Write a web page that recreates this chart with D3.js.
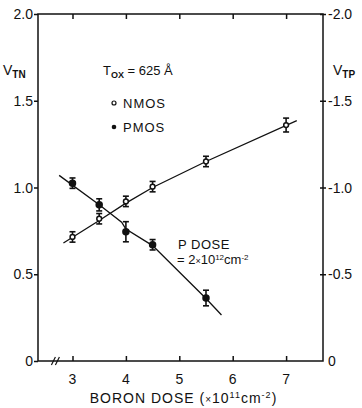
<!DOCTYPE html>
<meta charset="utf-8">
<style>
body { margin: 0; background: #fff; font-family: "Liberation Sans", Arial, sans-serif; }
svg text { fill: #111; }
.axis path, .axis line { stroke: #111; stroke-width: 1.5; fill: none; }
.fit { stroke: #111; stroke-width: 1.3; fill: none; }
.err { stroke: #111; stroke-width: 1.6; }
</style>
<body>
<script src="https://d3js.org/d3.v7.min.js"></script>
<script>

// data
var doseN = [3, 3.5, 4, 4.5, 5.5, 7];
var vtn = [0.715, 0.82, 0.92, 1.005, 1.15, 1.36];
var errN = [0.03, 0.03, 0.03, 0.03, 0.03, 0.04];

var doseP = [3, 3.5, 4, 4.5, 5.5];
var vtp = [1.025, 0.90, 0.745, 0.67, 0.363];   // plotted as |VTP|
var errP = [0.03, 0.035, 0.058, 0.03, 0.045];

// hand-drawn fit lines
var fitNx = [2.83, 3.5, 4, 4.5, 5.5, 7.2];
var fitNy = [0.68, 0.81, 0.91, 1.0, 1.15, 1.385];
var fitPx = [2.75, 3.5, 3.92, 4.0, 4.5, 5.5, 5.79];
var fitPy = [1.07, 0.9, 0.80, 0.76, 0.665, 0.36, 0.265];

var xTicks = [3, 4, 5, 6, 7];
var yTicks = [0, 0.5, 1.0, 1.5, 2.0];
var yLabelsL = ["0", "0.5", "1.0", "1.5", "2.0"];
var yLabelsR = ["0", "-0.5", "-1.0", "-1.5", "-2.0"];

var margin = {top: 14, right: 39, bottom: 47, left: 38},
    width = 362 - margin.left - margin.right,
    height = 408 - margin.top - margin.bottom;

var svg = d3.select("body").append("svg")
    .attr("width", 362).attr("height", 408)
  .append("g")
    .attr("transform", "translate(" + margin.left + "," + margin.top + ")");

var x = d3.scaleLinear().domain([2.354, 7.691]).range([0, width]);
var y = d3.scaleLinear().domain([0, 2]).range([height, 0]);

// frame
svg.append("rect").attr("width", width).attr("height", height)
    .style("fill", "none").style("stroke", "#111").style("stroke-width", 1.5);

// bottom + top ticks pointing in
var bx = svg.append("g").attr("class", "axis")
    .attr("transform", "translate(0," + height + ")")
    .call(d3.axisBottom(x).tickValues(xTicks).tickSize(-5).tickFormat(""));
bx.select(".domain").remove();
svg.append("g").attr("class", "axis")
    .call(d3.axisTop(x).tickValues(xTicks).tickSize(-5).tickFormat(""))
    .select(".domain").remove();

svg.selectAll(".xlab").data(xTicks).enter().append("text")
    .attr("x", function(d) { return x(d); })
    .attr("y", height + 23)
    .attr("text-anchor", "middle")
    .style("font-size", "14px")
    .text(function(d) { return d; });

// axis break mark
[-2, 2].forEach(function(o) {
  svg.append("line")
      .attr("x1", x(2.68) + o - 2).attr("y1", height + 4)
      .attr("x2", x(2.68) + o + 2).attr("y2", height - 4)
      .style("stroke", "#111").style("stroke-width", 1.2);
});

// left axis
var ly = svg.append("g").attr("class", "axis")
    .call(d3.axisLeft(y).tickValues(yTicks).tickSize(4).tickFormat(""));
ly.select(".domain").remove();
svg.selectAll(".ylabL").data(yTicks).enter().append("text")
    .attr("x", -5)
    .attr("y", function(d) { return y(d) + 5; })
    .attr("text-anchor", "end")
    .style("font-size", "14px")
    .text(function(d, i) { return yLabelsL[i]; });

// right axis, ticks crossing
var ry = svg.append("g").attr("class", "axis")
    .attr("transform", "translate(" + width + ",0)")
    .call(d3.axisRight(y).tickValues(yTicks.slice(1)).tickSize(3).tickFormat(""));
ry.select(".domain").remove();
ry.selectAll(".tick line").attr("x1", -3);
svg.selectAll(".ylabR").data(yTicks).enter().append("text")
    .attr("x", width + 5)
    .attr("y", function(d) { return y(d) + 5; })
    .attr("text-anchor", "start")
    .style("font-size", "14px")
    .text(function(d, i) { return yLabelsR[i]; });

// axis titles
var tn = svg.append("text").attr("x", -35).attr("y", 61).style("font-size", "14px");
tn.append("tspan").text("V");
tn.append("tspan").attr("dy", 3).style("font-size", "10px").style("font-weight", "bold").text("TN");
var tp = svg.append("text").attr("x", width + 10).attr("y", 61).style("font-size", "14px");
tp.append("tspan").text("V");
tp.append("tspan").attr("dy", 3).style("font-size", "10px").style("font-weight", "bold").text("TP");

svg.append("text")
    .attr("x", width / 2 + 3).attr("y", height + 42)
    .attr("text-anchor", "middle")
    .style("font-size", "14px").style("letter-spacing", "1px")
    .html('BORON DOSE (<tspan style="font-size:10px">×</tspan>10<tspan dy="-5" style="font-size:9px">11</tspan><tspan dy="5">cm</tspan><tspan dy="-5" style="font-size:9px">-2</tspan><tspan dy="5">)</tspan>');

// fit lines
var line = d3.line().x(function(d) { return x(d[0]); }).y(function(d) { return y(d[1]); });
svg.append("path").attr("class", "fit")
    .attr("d", line(d3.zip(fitNx, fitNy)));
svg.append("path").attr("class", "fit")
    .attr("d", line(d3.zip(fitPx, fitPy)));

// error bars + markers
function drawSeries(xs, ys, es, filled) {
  xs.forEach(function(d, i) {
    var g = svg.append("g");
    var cx = x(d), y0 = y(ys[i] - es[i]), y1 = y(ys[i] + es[i]);
    g.append("line").attr("class", "err").attr("x1", cx).attr("x2", cx).attr("y1", y0).attr("y2", y1);
    g.append("line").attr("class", "err").attr("x1", cx - 3).attr("x2", cx + 3).attr("y1", y0).attr("y2", y0);
    g.append("line").attr("class", "err").attr("x1", cx - 3).attr("x2", cx + 3).attr("y1", y1).attr("y2", y1);
    g.append("circle").attr("cx", cx).attr("cy", y(ys[i])).attr("r", filled ? 3 : 2.4)
        .style("fill", filled ? "#111" : "#fff").style("stroke", "#111").style("stroke-width", 1.5);
  });
}
drawSeries(doseN, vtn, errN, false);
drawSeries(doseP, vtp, errP, true);

// annotations
var tox = svg.append("text").attr("x", 65).attr("y", 61).style("font-size", "13px");
tox.append("tspan").text("T");
tox.append("tspan").attr("dy", 3).style("font-size", "9px").style("font-weight", "bold").text("OX");
tox.append("tspan").attr("dy", -3).text(" = 625 Å");

svg.append("circle").attr("cx", 76).attr("cy", 89).attr("r", 2)
    .style("fill", "#fff").style("stroke", "#111").style("stroke-width", 1.2);
svg.append("text").attr("x", 85).attr("y", 94).style("font-size", "13px")
    .style("letter-spacing", "1px").text("NMOS");
svg.append("circle").attr("cx", 76).attr("cy", 113).attr("r", 2.3).style("fill", "#111");
svg.append("text").attr("x", 85).attr("y", 118).style("font-size", "13px")
    .style("letter-spacing", "1px").text("PMOS");

svg.append("text").attr("x", 140).attr("y", 235).style("font-size", "13px")
    .style("letter-spacing", "0.5px").text("P DOSE");
svg.append("text").attr("x", 139).attr("y", 250).style("font-size", "13px")
    .html('= 2<tspan style="font-size:9px">×</tspan>10<tspan dy="-4" style="font-size:8px">12</tspan><tspan dy="4">cm</tspan><tspan dy="-4" style="font-size:8px">-2</tspan>');

</script>
</body>
